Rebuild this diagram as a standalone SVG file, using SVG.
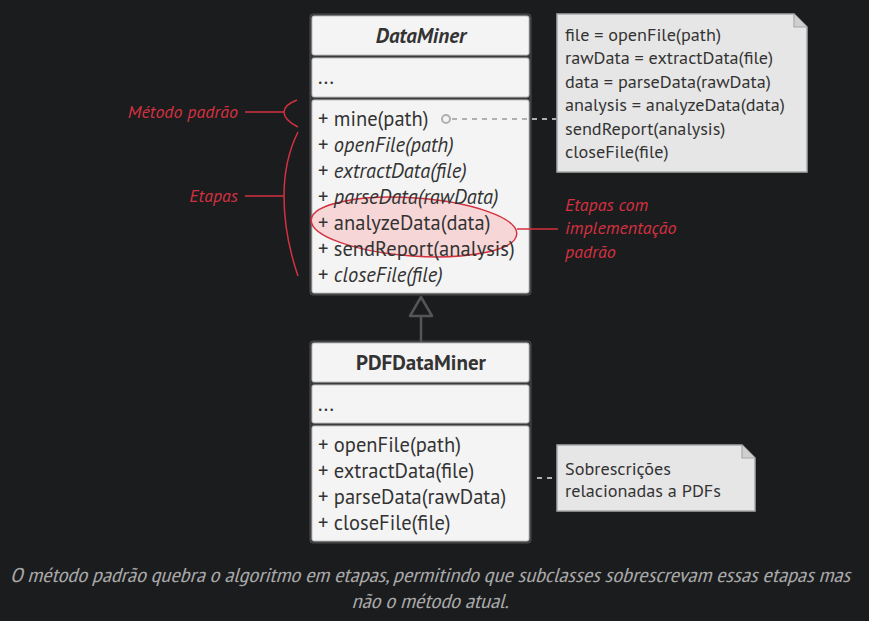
<svg xmlns="http://www.w3.org/2000/svg" width="869" height="621" viewBox="0 0 869 621">
<style>
.bg{fill:#1b1c1e}
.frame{fill:#3a3b3d;stroke:#4a4b4d;stroke-width:1}
.comp{fill:#f4f4f4;stroke:#bdbdbd;stroke-width:1}
.t{font-family:"PT Sans","Noto Sans","Liberation Sans",sans-serif;font-size:20.5px;fill:#333}
.i{font-style:italic}
.h{font-weight:bold;font-size:21px;text-anchor:middle}
.note{fill:#e6e6e6;stroke:#a8a8a8;stroke-width:1.5}
.nt{font-family:"PT Sans","Noto Sans","Liberation Sans",sans-serif;font-size:18.2px;fill:#333}
.red{font-family:"PT Sans","Noto Sans","Liberation Sans",sans-serif;font-size:18px;font-style:italic;fill:#d43140}
.rl{fill:none;stroke:#d43140;stroke-width:1.5}
.dash{fill:none;stroke:#b0b0b0;stroke-width:2;stroke-dasharray:5,5}
.cap{font-family:"Liberation Sans Narrow","PT Sans Narrow","Noto Sans",sans-serif;font-size:20px;font-style:italic;fill:#a8a8a8;text-anchor:middle}
</style>
<rect class="bg" x="0" y="0" width="869" height="621"/>

<g id="DataMiner">
  <rect class="frame" x="310" y="14" width="221" height="281" rx="3"/>
  <rect class="comp" x="312" y="16" width="217" height="39" rx="2"/>
  <rect class="comp" x="312" y="58" width="217" height="39" rx="2"/>
  <rect class="comp" x="312" y="100" width="217" height="193" rx="2"/>
  <text class="t h i" x="421" y="43">DataMiner</text>
  <text class="t" x="318" y="84">...</text>
  <ellipse cx="414" cy="227" rx="103" ry="29" transform="rotate(4 414 227)" fill="#f6d3d3" fill-opacity="0.9" stroke="#d43140" stroke-width="1.5"/>
  <text class="t" x="318" y="126">+ mine(path)</text>
  <text class="t" x="318" y="152">+ <tspan class="i">openFile(path)</tspan></text>
  <text class="t" x="318" y="178">+ <tspan class="i">extractData(file)</tspan></text>
  <text class="t" x="318" y="204">+ <tspan class="i">parseData(rawData)</tspan></text>
  <text class="t" x="318" y="230">+ analyzeData(data)</text>
  <text class="t" x="318" y="256">+ sendReport(analysis)</text>
  <text class="t" x="318" y="282">+ <tspan class="i">closeFile(file)</tspan></text>
</g>

<g id="PDFDataMiner">
  <rect class="frame" x="310" y="341" width="221" height="202" rx="3"/>
  <rect class="comp" x="312" y="343" width="217" height="39" rx="2"/>
  <rect class="comp" x="312" y="385" width="217" height="38" rx="2"/>
  <rect class="comp" x="312" y="426" width="217" height="115" rx="2"/>
  <text class="t h" x="421" y="370">PDFDataMiner</text>
  <text class="t" x="318" y="411">...</text>
  <text class="t" x="318" y="452">+ openFile(path)</text>
  <text class="t" x="318" y="478">+ extractData(file)</text>
  <text class="t" x="318" y="504">+ parseData(rawData)</text>
  <text class="t" x="318" y="530">+ closeFile(file)</text>
</g>

<g id="note-mine">
  <path class="note" d="M557,14 H794 L807,27 V172 H557 Z"/>
  <path d="M794,14 V27 H807" fill="#cfcfcf" stroke="#a8a8a8" stroke-width="1.2"/>
  <text class="nt" x="565" y="41">file = openFile(path)</text>
  <text class="nt" x="565" y="64">rawData = extractData(file)</text>
  <text class="nt" x="565" y="88">data = parseData(rawData)</text>
  <text class="nt" x="565" y="111">analysis = analyzeData(data)</text>
  <text class="nt" x="565" y="135">sendReport(analysis)</text>
  <text class="nt" x="565" y="158">closeFile(file)</text>
</g>

<g id="note-pdf">
  <path class="note" d="M557,445 H742 L755,458 V511 H557 Z"/>
  <path d="M742,445 V458 H755" fill="#cfcfcf" stroke="#a8a8a8" stroke-width="1.2"/>
  <text class="nt" x="565" y="475">Sobrescrições</text>
  <text class="nt" x="565" y="497">relacionadas a PDFs</text>
</g>

<g id="connectors">
  <path class="dash" d="M452,119 H556"/>
  <circle cx="446" cy="119" r="4" fill="#f4f4f4" stroke="#b0b0b0" stroke-width="2"/>
  <path class="dash" d="M537,478 H556"/>
  <path d="M421,316 V342" stroke="#555" stroke-width="2.5" fill="none"/>
  <path d="M421,297 L410,316 H432 Z" fill="#1b1c1e" stroke="#555" stroke-width="2.5" stroke-linejoin="round"/>
</g>

<g id="annotation-metodo">
  <text class="red" x="238" y="118" text-anchor="end">Método padrão</text>
  <path class="rl" d="M245,112 H284"/>
  <path class="rl" d="M297,100 Q284,105 284,112 Q284,120 298,127"/>
</g>
<g id="annotation-etapas">
  <text class="red" x="238" y="202" text-anchor="end">Etapas</text>
  <path class="rl" d="M245,196 H284"/>
  <path class="rl" d="M298,132 Q284,160 284,196 Q284,235 298,276"/>
</g>
<g id="annotation-padrao">
  <path class="rl" d="M517,229 H558"/>
  <text class="red" x="565" y="211">Etapas com</text>
  <text class="red" x="565" y="234">implementação</text>
  <text class="red" x="565" y="258">padrão</text>
</g>

<text class="cap" x="430" y="582" textLength="840" lengthAdjust="spacingAndGlyphs">O método padrão quebra o algoritmo em etapas, permitindo que subclasses sobrescrevam essas etapas mas</text>
<text class="cap" x="430" y="608" textLength="157" lengthAdjust="spacingAndGlyphs">não o método atual.</text>
</svg>
